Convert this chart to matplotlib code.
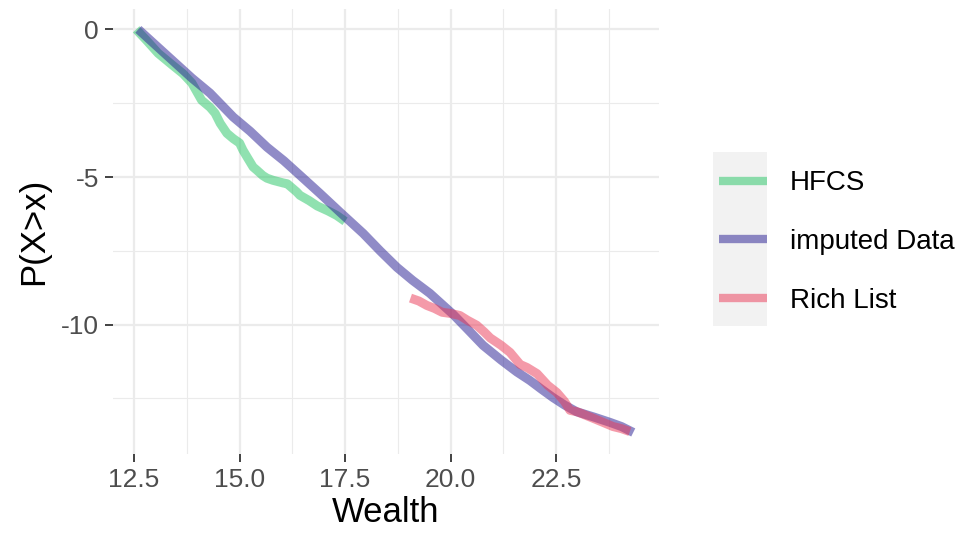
import matplotlib
matplotlib.use("Agg")
import matplotlib.pyplot as plt
from matplotlib.patches import Rectangle
from matplotlib.ticker import MultipleLocator

plt.rcParams['font.family'] = ['Liberation Sans', 'DejaVu Sans']
plt.rcParams['axes.unicode_minus'] = False

series_names = ["HFCS", "imputed Data", "Rich List"]

hfcs_x = [12.55, 12.8, 13.07, 13.4, 13.66, 13.87, 14.1, 14.3, 14.42, 14.54, 14.7, 14.85,
          15.0, 15.08, 15.18, 15.32, 15.41, 15.55, 15.65, 15.79, 16.03, 16.13, 16.35,
          16.43, 16.65, 16.84, 17.1, 17.3, 17.5]
hfcs_y = [0, -0.38, -0.81, -1.2, -1.5, -1.82, -2.4, -2.64, -2.84, -3.18, -3.52, -3.7,
          -3.85, -4.09, -4.33, -4.66, -4.77, -4.95, -5.04, -5.11, -5.2, -5.23, -5.5,
          -5.62, -5.8, -5.98, -6.15, -6.3, -6.5]

imp_x = [12.6, 13.1, 13.87, 14.3, 14.85, 15.25, 15.65, 16.05, 16.43, 16.9, 17.38, 17.93,
         18.33, 18.73, 19.1, 19.51, 20.06, 20.4, 20.77, 21.2, 21.57, 21.88, 22.15, 22.43,
         22.7, 22.99, 23.4, 23.78, 24.05, 24.33]
imp_y = [0, -0.65, -1.65, -2.16, -2.97, -3.45, -3.99, -4.45, -4.94, -5.55, -6.19, -6.91,
         -7.5, -8.06, -8.5, -8.94, -9.65, -10.15, -10.7, -11.2, -11.6, -11.89, -12.18,
         -12.47, -12.72, -12.95, -13.13, -13.31, -13.45, -13.65]

rich_x = [19.05, 19.25, 19.44, 19.62, 19.8, 20.0, 20.22, 20.4, 20.62, 20.8, 20.94, 21.2,
          21.41, 21.65, 21.81, 22.05, 22.3, 22.52, 22.7, 22.83, 23.0, 23.38, 23.6, 23.85,
          24.05, 24.25]
rich_y = [-9.1, -9.2, -9.35, -9.45, -9.58, -9.62, -9.69, -9.85, -10.02, -10.25, -10.45,
          -10.7, -10.94, -11.35, -11.45, -11.66, -12.05, -12.3, -12.6, -12.9, -12.95,
          -13.17, -13.3, -13.45, -13.52, -13.62]

x_ticks = [12.5, 15.0, 17.5, 20.0, 22.5]
x_tick_labels = ["12.5", "15.0", "17.5", "20.0", "22.5"]
y_ticks = [0, -5, -10]
y_tick_labels = ["0", "-5", "-10"]

colors = ["#23c563", "#231991", "#eb3755"]
alpha = 0.5

fig = plt.figure(figsize=(9.63, 5.43), dpi=100)
ax = fig.add_axes([113/963, 1-454/543, (659-113)/963, (454-9)/543])

lw = 6.5
for xs, ys, c, name in zip([hfcs_x, imp_x, rich_x], [hfcs_y, imp_y, rich_y], colors, series_names):
    ax.plot(xs, ys, color=c, alpha=alpha, lw=lw, solid_capstyle='butt', label=name)

ax.set_xlim(12.0, 24.94)
ax.set_ylim(-14.38, 0.69)
ax.xaxis.set_minor_locator(MultipleLocator(1.25))
ax.yaxis.set_minor_locator(MultipleLocator(2.5))
ax.set_xticks(x_ticks)
ax.set_xticklabels(x_tick_labels)
ax.set_yticks(y_ticks)
ax.set_yticklabels(y_tick_labels)
ax.grid(which='major', color='#ebebeb', lw=1.6)
ax.grid(which='minor', color='#ebebeb', lw=0.8)
ax.set_axisbelow(True)
for s in ax.spines.values():
    s.set_visible(False)
ax.tick_params(which='major', length=6, width=1.3, color='#333333', labelcolor='#4d4d4d',
               labelsize=19, pad=4)
ax.tick_params(which='minor', length=0)
ax.set_xlabel("Wealth", fontsize=25, color='black', labelpad=3)
ax.set_ylabel("P(X>x)", fontsize=25, color='black', labelpad=8)

fig.patches.append(Rectangle((713/963, 1-326/543), 54/963, 174/543, transform=fig.transFigure,
                             facecolor='#f2f2f2', edgecolor='none', zorder=0))
leg = fig.legend(loc='center left', bbox_to_anchor=(713/963, 1-242/543), frameon=False,
                 fontsize=20, handlelength=1.73, handletextpad=0.85, labelspacing=1.18,
                 borderpad=0.2, borderaxespad=0)
for h in leg.get_lines():
    h.set_linewidth(6.0)

fig.savefig("out.png", dpi=100)
